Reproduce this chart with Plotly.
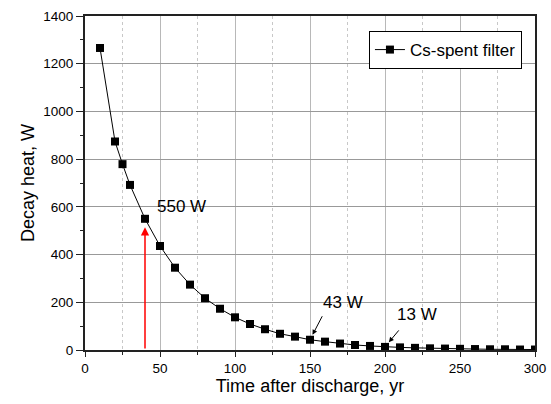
import plotly.graph_objects as go

time_yr = [10, 20, 25, 30, 40, 50, 60, 70, 80, 90, 100, 110, 120, 130, 140, 150,
           160, 170, 180, 190, 200, 210, 220, 230, 240, 250, 260, 270, 280, 290, 300]
decay_heat_w = [1266, 874, 779, 692, 550, 436, 345, 274, 217, 173, 137, 109, 87, 68, 56, 43,
                35, 27, 21, 17, 13, 11, 9, 7, 6, 5, 4, 3, 3, 2, 2]
series_name = "Cs-spent filter"
x_ticks = [0, 50, 100, 150, 200, 250, 300]
y_ticks = [0, 200, 400, 600, 800, 1000, 1200, 1400]

font = "Liberation Sans, Arial, sans-serif"

fig = go.Figure()
fig.add_trace(go.Scatter(
    x=time_yr, y=decay_heat_w, mode="lines+markers", name=series_name,
    line=dict(color="black", width=1),
    marker=dict(symbol="square", size=8, color="black"),
    cliponaxis=True,
))

# red arrow at 40 yr
fig.add_annotation(x=40, y=515, ax=40, ay=0, xref="x", yref="y", axref="x", ayref="y",
                   showarrow=True, arrowhead=2, arrowsize=1.1, arrowwidth=1.5,
                   arrowcolor="red", text="")
fig.add_annotation(x=40, y=550, xref="x", yref="y", text="550 W", showarrow=False,
                   xanchor="left", yanchor="bottom", xshift=10, yshift=1,
                   font=dict(size=17, color="black", family=font))
fig.add_annotation(x=150, y=43, xref="x", yref="y", text="", showarrow=True,
                   ax=13, ay=-25, standoff=5.5, arrowhead=2, arrowsize=1, arrowwidth=1,
                   arrowcolor="black")
fig.add_annotation(x=150, y=43, xref="x", yref="y", text="43 W", showarrow=False,
                   xanchor="left", yanchor="bottom", xshift=11, yshift=26,
                   font=dict(size=17, color="black", family=font))
fig.add_annotation(x=200, y=13, xref="x", yref="y", text="", showarrow=True,
                   ax=15, ay=-18, standoff=6, arrowhead=2, arrowsize=1, arrowwidth=1,
                   arrowcolor="black")
fig.add_annotation(x=200, y=13, xref="x", yref="y", text="13 W", showarrow=False,
                   xanchor="left", yanchor="bottom", xshift=10, yshift=21,
                   font=dict(size=17, color="black", family=font))

fig.update_layout(
    width=551, height=404,
    margin=dict(l=85, r=16, t=16, b=54, autoexpand=False),
    paper_bgcolor="white", plot_bgcolor="white",
    font=dict(family=font, size=13.5, color="black"),
    showlegend=True,
    legend=dict(x=0.971, y=0.955, xanchor="right", yanchor="top",
                bordercolor="black", borderwidth=1, bgcolor="white",
                font=dict(size=17, family=font), itemwidth=30,
                tracegroupgap=0),
)
fig.update_xaxes(
    range=[0, 300], tickvals=x_ticks, automargin=False,
    showline=True, linecolor="#222", linewidth=2, mirror=True,
    ticks="outside", ticklen=5, tickcolor="#222", tickwidth=1,
    showgrid=True, gridcolor="#b8b8b8", gridwidth=1, zeroline=False,
    minor=dict(dtick=25, ticks="outside", ticklen=3, tickcolor="#222",
               showgrid=True, gridcolor="#c8c8c8", griddash="dot", gridwidth=1),
    title=dict(text="Time after discharge, yr", font=dict(size=18, family=font), standoff=4),
    tickfont=dict(size=13.5, family=font),
)
fig.update_yaxes(
    range=[0, 1400], tickvals=y_ticks, automargin=False,
    showline=True, linecolor="#222", linewidth=2, mirror=True,
    ticks="outside", ticklen=7, tickcolor="#222", tickwidth=1,
    showgrid=True, gridcolor="#999999", gridwidth=1, zeroline=False,
    minor=dict(dtick=100, ticks="outside", ticklen=3, tickcolor="#222", showgrid=False),
    title=dict(text="Decay heat, W", font=dict(size=18, family=font), standoff=4),
    tickfont=dict(size=13.5, family=font),
)

fig.write_html("out.html", config={"displayModeBar": False},
               post_script="document.body.style.margin='0';document.body.style.overflow='hidden';")
